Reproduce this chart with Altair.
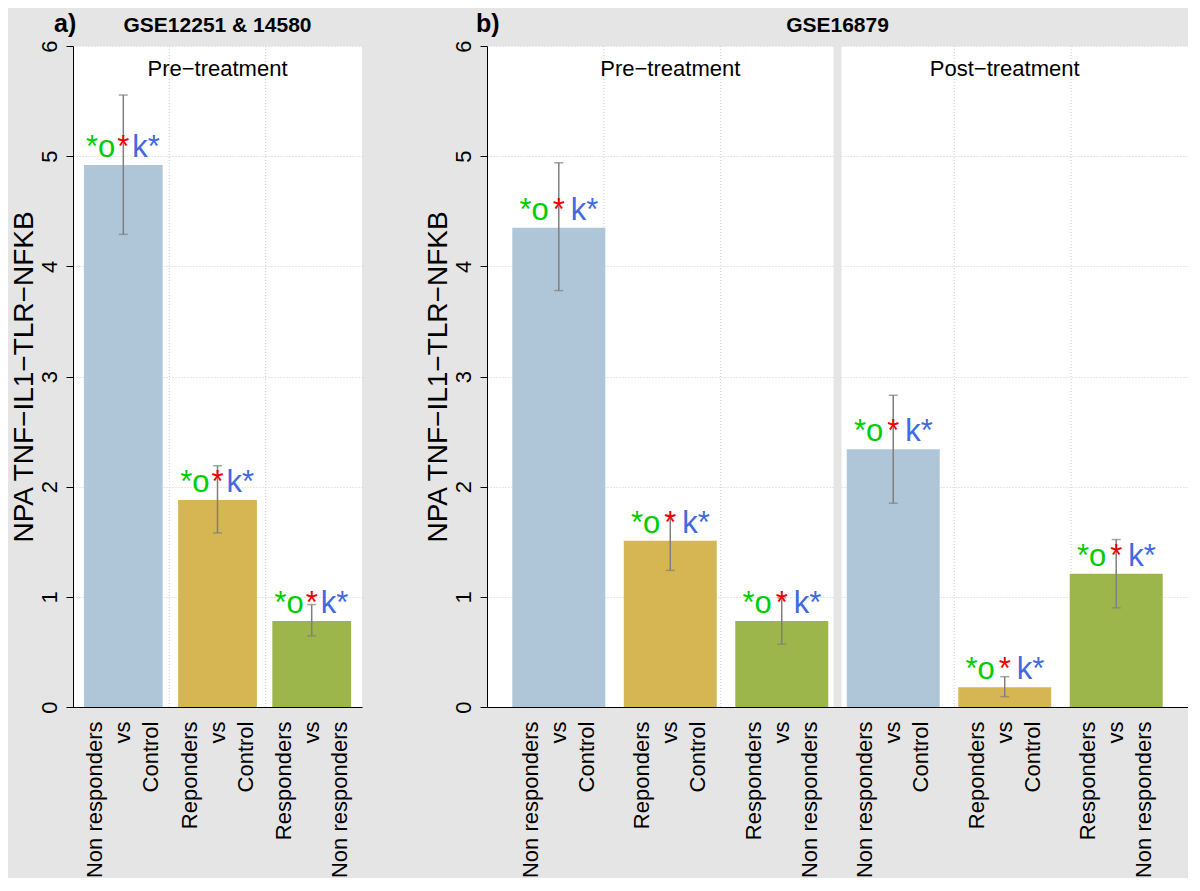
import json
import altair as alt
import pandas as pd

FONT = "Liberation Sans"
BG = "#e5e5e5"

# ---------------- data ----------------
cmp_codes = ["NRvC", "RvC", "RvNR"]
bar_colors = ["#afc6d8", "#d6b553", "#9db64b"]
cmp_lines = {
    "NRvC": ["Non responders", "vs", "Control"],
    "RvC": ["Reponders", "vs", "Control"],
    "RvNR": ["Responders", "vs", "Non responders"],
}

a_keys = ["a1", "a2", "a3"]
a_cmp = ["NRvC", "RvC", "RvNR"]
a_mean = [4.92, 1.88, 0.78]
a_low = [4.29, 1.58, 0.645]
a_high = [5.555, 2.19, 0.93]

b_keys = ["b1", "b2", "b3", "b4", "b5", "b6"]
b_cmp = ["NRvC", "RvC", "RvNR", "NRvC", "RvC", "RvNR"]
b_mean = [4.35, 1.51, 0.78, 2.34, 0.18, 1.21]
b_low = [3.78, 1.24, 0.57, 1.85, 0.094, 0.90]
b_high = [4.94, 1.74, 0.99, 2.83, 0.275, 1.52]

a_facets = ["Pre\u2212treatment"]
a_facet_keys = ["a2"]
b_facets = ["Pre\u2212treatment", "Post\u2212treatment"]
b_facet_keys = ["b2", "b5"]

sig_left = "*o"
sig_mid = "*"
sig_right = "k*"

y_title = "NPA TNF\u2212IL1\u2212TLR\u2212NFKB"
y_ticks = [0, 1, 2, 3, 4, 5, 6]


def make_df(keys, cmps, mean, low, high):
    return pd.DataFrame({
        "key": keys, "cmp": cmps, "mean": mean, "low": low, "high": high,
        "sl": [sig_left] * len(keys), "sm": [sig_mid] * len(keys), "sr": [sig_right] * len(keys),
    })


def panel(df, keys, width, pad_inner, pad_outer, n_grid, facet_labels, facet_keys,
          letter, letter_x, gse, gap_l, gap_r, divider):
    height = 661
    label_map = {k: cmp_lines[c] for k, c in zip(df["key"], df["cmp"])}
    label_expr = "(" + json.dumps(label_map) + ")[datum.value]"

    xband = alt.X(
        "key:N", sort=keys,
        scale=alt.Scale(domain=keys, paddingInner=pad_inner, paddingOuter=pad_outer),
        axis=alt.Axis(
            title=None, ticks=False, tickSize=0, grid=False, domainColor="black", domainWidth=1,
            labelAngle=270, labelAlign="right", labelBaseline="middle", labelPadding=14,
            labelOffset=-28,
            labelFontSize=22, labelLineHeight=28, labelExpr=label_expr, labelLimit=0,
            labelOverlap=False,
        ),
    )
    yq = alt.Y(
        "mean:Q",
        scale=alt.Scale(domain=[0, 6], nice=False, zero=True),
        axis=alt.Axis(
            title=y_title, values=y_ticks, format="d", grid=True, gridColor="#cfcfcf",
            gridDash=[1, 2], gridWidth=1, domainColor="black", tickColor="black", tickSize=7,
            labelAngle=270, labelAlign="center", labelBaseline="alphabetic", labelPadding=10,
            labelFontSize=22, labelFlush=False, labelOverlap=False,
            titleFontSize=28, titleFontWeight="normal", titleAngle=270,
            titleAlign="center", titleBaseline="alphabetic", titleX=-41, titleY=height / 2,
        ),
    )

    base = alt.Chart(df)
    xk = alt.X("key:N", sort=keys)

    # grid (and divider) on a plain 0..n scale, below everything
    qscale = alt.Scale(domain=[0, n_grid], nice=False, zero=True)
    grid_df = pd.DataFrame({"g": list(range(1, n_grid))})
    grid = alt.Chart(grid_df).mark_rule(color="#cfcfcf", strokeDash=[1, 2], strokeWidth=1).encode(
        x=alt.X("g:Q", scale=qscale, axis=None)
    )
    under = [grid]
    if divider:
        div = alt.Chart(pd.DataFrame({"g": [n_grid / 2]})).mark_rule(color=BG, strokeWidth=8).encode(
            x=alt.X("g:Q", scale=qscale, axis=None)
        )
        under.append(div)
    under_layer = alt.layer(*under)

    bars = base.mark_bar().encode(
        x=xband, y=yq,
        color=alt.Color("cmp:N", scale=alt.Scale(domain=cmp_codes, range=bar_colors), legend=None),
    )

    err = base.mark_rule(color="#7f7f7f", strokeWidth=1.5).encode(
        x=xk, y=alt.Y("low:Q"), y2="high:Q"
    )
    cap_lo = base.mark_tick(color="#7f7f7f", thickness=1.5, size=9).encode(x=xk, y=alt.Y("low:Q"))
    cap_hi = base.mark_tick(color="#7f7f7f", thickness=1.5, size=9).encode(x=xk, y=alt.Y("high:Q"))

    t_left = base.mark_text(font=FONT, fontSize=31, color="#00cd00", align="right",
                            baseline="alphabetic", dx=-gap_l, dy=-8).encode(
        x=xk, y=alt.Y("mean:Q"), text="sl:N")
    t_mid = base.mark_text(font=FONT, fontSize=31, color="#ee0000", align="center",
                           baseline="alphabetic", dy=-8).encode(
        x=xk, y=alt.Y("mean:Q"), text="sm:N")
    t_right = base.mark_text(font=FONT, fontSize=31, color="#4169e1", align="left",
                             baseline="alphabetic", dx=gap_r, dy=-8).encode(
        x=xk, y=alt.Y("mean:Q"), text="sr:N")

    fac_df = pd.DataFrame({"key": facet_keys, "lab": facet_labels, "pos": [5.73] * len(facet_keys)})
    facets = alt.Chart(fac_df).mark_text(font=FONT, fontSize=22, color="black", align="center",
                                         baseline="alphabetic").encode(
        x=xk, y=alt.Y("pos:Q"), text="lab:N")

    title_df = pd.DataFrame({"t": [letter], "g": [gse]})
    t_letter = alt.Chart(title_df).mark_text(font=FONT, fontSize=25, fontWeight="bold", color="black",
                                             align="left", baseline="alphabetic").encode(
        x=alt.value(letter_x), y=alt.value(-14), text="t:N")
    t_gse = alt.Chart(title_df).mark_text(font=FONT, fontSize=21, fontWeight="bold", color="black",
                                          align="center", baseline="alphabetic").encode(
        x=alt.value(width / 2), y=alt.value(-14), text="g:N")

    main_layer = alt.layer(bars, err, cap_lo, cap_hi, t_left, t_mid, t_right, facets, t_letter, t_gse)

    return alt.layer(under_layer, main_layer).resolve_scale(x="independent").properties(
        width=width, height=height)


df_a = make_df(a_keys, a_cmp, a_mean, a_low, a_high)
df_b = make_df(b_keys, b_cmp, b_mean, b_low, b_high)

chart_a = panel(df_a, a_keys, 289, 0.164, 0.116, 3, a_facets, a_facet_keys,
                "a)", -19, "GSE12251 & 14580", 8, 9, False)
chart_b = panel(df_b, b_keys, 701, 0.166, 0.227, 6, b_facets, b_facet_keys,
                "b)", -11, "GSE16879", 10, 12, True)

chart = alt.hconcat(chart_a, chart_b, spacing=62).configure(
    background=BG, padding={"left": 2, "top": 4, "right": 0, "bottom": 0}
).configure_view(
    stroke=None, fill="white"
).configure_axis(
    labelFont=FONT, titleFont=FONT, labelColor="black", titleColor="black"
).configure_text(font=FONT)

chart.save("out.html", embed_options={"renderer": "svg", "actions": False})
